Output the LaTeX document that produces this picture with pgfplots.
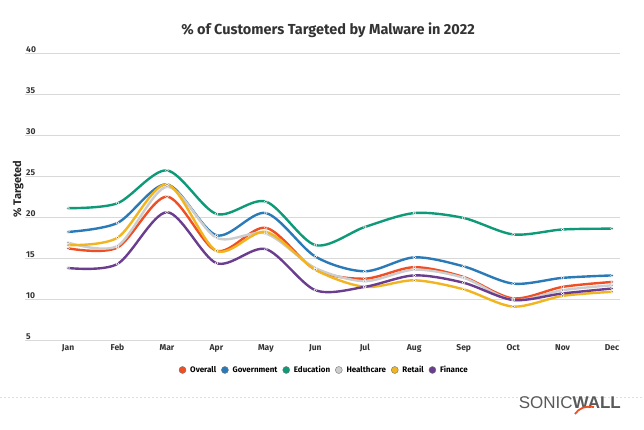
\documentclass[border=0pt]{standalone}
\usepackage{pgfplots}
\pgfplotsset{compat=1.18}
\usepackage{fontspec}
\setmainfont{Fira Sans}
\newfontfamily\logofont{Liberation Sans}
\definecolor{cOverall}{HTML}{F04E23}
\definecolor{cGov}{HTML}{2A7AB8}
\definecolor{cEdu}{HTML}{0E9A78}
\definecolor{cHealth}{HTML}{CDCDCD}
\definecolor{cRetail}{HTML}{F0B521}
\definecolor{cFin}{HTML}{6A3D8F}
\begin{document}
\begin{tikzpicture}[x=1pt,y=1pt]
\path[use as bounding box] (0,0) rectangle (644,430);
\node[font=\bfseries\fontsize{14.5}{16}\selectfont, text=black!80] at (328,400) {\% of Customers Targeted by Malware in 2022};
\begin{axis}[
  at={(25pt,89pt)}, anchor=south west,
  scale only axis, width=595pt, height=287pt,
  xmin=-0.87, xmax=11.16, ymin=5, ymax=40,
  xtick={0,...,11},
  xticklabels={Jan,Feb,Mar,Apr,May,Jun,Jul,Aug,Sep,Oct,Nov,Dec},
  ytick={5,10,...,40},
  /pgf/number format/assume math mode=true,
  ymajorgrids, grid style={black!15, line width=1pt},
  axis line style={draw=none},
  major tick length=0pt,
  ticklabel style={font=\bfseries\fontsize{8.5}{9}\selectfont, text=black!80},
  yticklabel style={anchor=south west, inner sep=1pt},
  xticklabel style={anchor=north, inner sep=2pt, yshift=-1pt},
  ylabel={\% Targeted},
  ylabel style={at={(axis description cs:-0.002,0.53)}, anchor=south, inner sep=0pt, font=\bfseries\fontsize{11}{12}\selectfont, text=black!85},
  legend columns=6,
  legend style={draw=none, at={(axis description cs:0.503,-0.101)}, anchor=center, font=\bfseries\fontsize{8}{9}\selectfont, column sep=2pt, /tikz/every even column/.append style={column sep=3pt}},
  legend image code/.code={\node[circle, draw=black!55, fill, line width=0.4pt, inner sep=0pt, minimum size=7pt] at (0.1cm,0) {};},
  every axis plot/.append style={smooth, tension=0.5, line width=2.4pt, mark=*, mark size=1.4pt},
]
\addplot[color=cOverall, mark options={fill=cOverall!60!black, draw=white, line width=0.5pt}] coordinates {(0,16.3) (1,16.4) (2,22.6) (3,16.0) (4,18.8) (5,13.7) (6,12.6) (7,14.0) (8,12.8) (9,10.2) (10,11.6) (11,12.2)};
\addlegendentry{Overall}
\addplot[color=cGov, mark options={fill=cGov!60!black, draw=white, line width=0.5pt}] coordinates {(0,18.3) (1,19.4) (2,24.1) (3,17.9) (4,20.6) (5,15.3) (6,13.5) (7,15.2) (8,14.1) (9,12.0) (10,12.7) (11,13.0)};
\addlegendentry{Government}
\addplot[color=cEdu, mark options={fill=cEdu!60!black, draw=white, line width=0.5pt}] coordinates {(0,21.2) (1,21.8) (2,25.8) (3,20.5) (4,22.0) (5,16.7) (6,18.9) (7,20.6) (8,20.0) (9,18.0) (10,18.6) (11,18.7)};
\addlegendentry{Education}
\addplot[color=cHealth, mark options={fill=black!45, draw=white, line width=0.5pt}] coordinates {(0,17.0) (1,16.6) (2,23.8) (3,17.6) (4,18.1) (5,13.9) (6,12.3) (7,13.7) (8,12.7) (9,10.0) (10,11.2) (11,11.8)};
\addlegendentry{Healthcare}
\addplot[color=cRetail, mark options={fill=cRetail!60!black, draw=white, line width=0.5pt}] coordinates {(0,16.7) (1,17.6) (2,24.1) (3,16.0) (4,18.3) (5,13.7) (6,11.6) (7,12.4) (8,11.3) (9,9.2) (10,10.5) (11,11.0)};
\addlegendentry{Retail}
\addplot[color=cFin, mark options={fill=cFin!50!black, draw=white, line width=0.5pt}] coordinates {(0,13.9) (1,14.4) (2,20.7) (3,14.5) (4,16.2) (5,11.2) (6,11.6) (7,13.0) (8,12.1) (9,10.0) (10,10.8) (11,11.4)};
\addlegendentry{Finance}
\end{axis}
\draw[black!12, dash pattern=on 2pt off 2pt, line width=0.6pt] (0,33) -- (644,33);
\node[anchor=east, inner sep=0pt, text=black!65, font=\logofont\fontsize{17}{18}\selectfont] at (621,27) {SONIC\textbf{WALL}};
\draw[cOverall, line width=1.8pt] (575,16) .. controls (579,22) and (585,24) .. (594,23);
\end{tikzpicture}
\end{document}
